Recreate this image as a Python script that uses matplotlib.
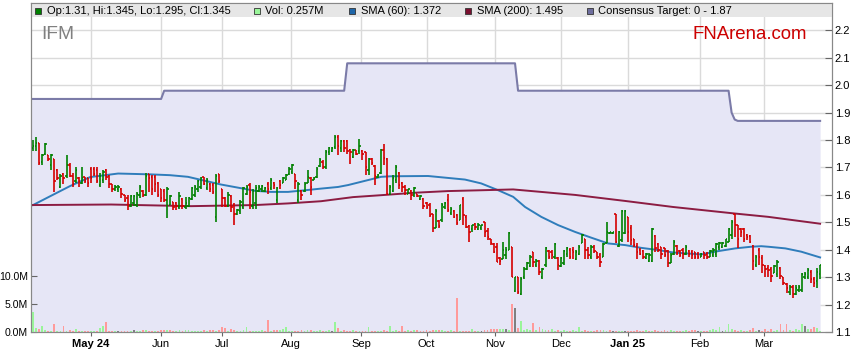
import numpy as np
import matplotlib
matplotlib.use('Agg')
import matplotlib.pyplot as plt
from matplotlib.patches import Rectangle

plt.rcParams['font.family'] = ['Liberation Sans', 'DejaVu Sans']

# daily OHLC (one entry per trading day)
opens = [
    1.77, 1.78, 1.79, 1.72, 1.75, 1.745, 1.71, 1.73, 1.69, 1.63,
    1.675, 1.67, 1.71, 1.67, 1.65, 1.66, 1.645, 1.665, 1.66, 1.695,
    1.695, 1.69, 1.635, 1.655, 1.69, 1.67, 1.64, 1.62, 1.62, 1.62,
    1.60, 1.59, 1.56, 1.57, 1.565, 1.60, 1.615, 1.60, 1.675, 1.665,
    1.665, 1.645, 1.62, 1.615, 1.58, 1.565, 1.575, 1.57, 1.555, 1.585,
    1.555, 1.56, 1.585, 1.60, 1.62, 1.63, 1.665, 1.625, 1.64, 1.635,
    1.52, 1.675, 1.62, 1.59, 1.56, 1.595, 1.565, 1.53, 1.54, 1.555,
    1.605, 1.635, 1.56, 1.57, 1.615, 1.62, 1.615, 1.64, 1.625, 1.645,
    1.58, 1.65, 1.645, 1.655, 1.675, 1.685, 1.675, 1.58, 1.615, 1.615,
    1.645, 1.66, 1.655, 1.665, 1.705, 1.72, 1.70, 1.755, 1.76, 1.775,
    1.81, 1.77, 1.795, 1.795, 1.765, 1.74, 1.765, 1.76, 1.76, 1.755,
    1.69, 1.73, 1.705, 1.665, 1.68, 1.765, 1.73, 1.605, 1.615, 1.655,
    1.68, 1.645, 1.63, 1.605, 1.615, 1.60, 1.605, 1.585, 1.585, 1.57,
    1.565, 1.53, 1.48, 1.505, 1.51, 1.555, 1.58, 1.535, 1.54, 1.525,
    1.51, 1.585, 1.52, 1.485, 1.475, 1.495, 1.475, 1.48, 1.50, 1.47,
    1.44, 1.42, 1.41, 1.37, 1.368, 1.38, 1.40, 1.41, 1.25, 1.30,
    1.24, 1.30, 1.33, 1.34, 1.39, 1.345, 1.36, 1.30, 1.345, 1.395,
    1.39, 1.375, 1.37, 1.34, 1.35, 1.385, 1.40, 1.40, 1.365, 1.385,
    1.425, 1.44, 1.40, 1.375, 1.41, 1.39, 1.38, 1.375, 1.425, 1.462,
    1.462, 1.53, 1.415, 1.435, 1.46, 1.52, 1.48, 1.44, 1.415, 1.40,
    1.395, 1.37, 1.36, 1.36, 1.45, 1.42, 1.41, 1.405, 1.395, 1.35,
    1.385, 1.415, 1.395, 1.40, 1.385, 1.395, 1.39, 1.39, 1.385, 1.375,
    1.39, 1.385, 1.375, 1.38, 1.385, 1.41, 1.41, 1.415, 1.43, 1.455,
    1.53, 1.49, 1.475, 1.475, 1.455, 1.45, 1.415, 1.345, 1.40, 1.37,
    1.34, 1.335, 1.33, 1.315, 1.31, 1.335, 1.30, 1.275, 1.245, 1.265,
    1.24, 1.255, 1.255, 1.30, 1.30, 1.32, 1.295, 1.285, 1.31]
highs = [
    1.80, 1.81, 1.79, 1.75, 1.79, 1.745, 1.75, 1.73, 1.695, 1.675,
    1.68, 1.745, 1.715, 1.68, 1.70, 1.665, 1.70, 1.665, 1.66, 1.70,
    1.70, 1.70, 1.68, 1.69, 1.695, 1.672, 1.64, 1.636, 1.636, 1.625,
    1.60, 1.60, 1.60, 1.60, 1.61, 1.635, 1.617, 1.68, 1.678, 1.672,
    1.672, 1.648, 1.623, 1.623, 1.63, 1.60, 1.575, 1.575, 1.61, 1.587,
    1.593, 1.593, 1.63, 1.636, 1.654, 1.666, 1.666, 1.66, 1.642, 1.642,
    1.678, 1.678, 1.623, 1.593, 1.611, 1.599, 1.569, 1.55, 1.581, 1.63,
    1.636, 1.642, 1.623, 1.636, 1.636, 1.636, 1.63, 1.648, 1.66, 1.648,
    1.63, 1.654, 1.666, 1.678, 1.70, 1.714, 1.678, 1.648, 1.617, 1.648,
    1.69, 1.666, 1.666, 1.70, 1.733, 1.727, 1.763, 1.775, 1.775, 1.818,
    1.818, 1.80, 1.80, 1.80, 1.769, 1.769, 1.765, 1.805, 1.763, 1.757,
    1.733, 1.733, 1.708, 1.678, 1.769, 1.787, 1.733, 1.636, 1.672, 1.708,
    1.684, 1.648, 1.636, 1.623, 1.617, 1.63, 1.605, 1.60, 1.587, 1.575,
    1.569, 1.532, 1.55, 1.508, 1.569, 1.575, 1.605, 1.556, 1.544, 1.532,
    1.563, 1.593, 1.526, 1.49, 1.49, 1.496, 1.496, 1.49, 1.502, 1.478,
    1.441, 1.423, 1.423, 1.374, 1.429, 1.411, 1.465, 1.411, 1.30, 1.30,
    1.30, 1.338, 1.356, 1.38, 1.393, 1.368, 1.362, 1.332, 1.411, 1.399,
    1.399, 1.423, 1.374, 1.374, 1.399, 1.411, 1.405, 1.411, 1.399, 1.417,
    1.459, 1.441, 1.411, 1.417, 1.417, 1.393, 1.387, 1.423, 1.502, 1.465,
    1.465, 1.532, 1.47, 1.544, 1.544, 1.52, 1.49, 1.441, 1.423, 1.405,
    1.399, 1.387, 1.387, 1.478, 1.453, 1.423, 1.411, 1.405, 1.399, 1.387,
    1.435, 1.417, 1.399, 1.405, 1.417, 1.399, 1.399, 1.393, 1.393, 1.387,
    1.393, 1.393, 1.399, 1.405, 1.423, 1.429, 1.429, 1.441, 1.478, 1.51,
    1.532, 1.49, 1.478, 1.478, 1.459, 1.453, 1.417, 1.38, 1.405, 1.38,
    1.344, 1.344, 1.338, 1.344, 1.362, 1.338, 1.30, 1.277, 1.271, 1.271,
    1.271, 1.271, 1.314, 1.32, 1.332, 1.326, 1.30, 1.332, 1.345]
lows = [
    1.76, 1.76, 1.71, 1.71, 1.745, 1.725, 1.69, 1.61, 1.655, 1.625,
    1.64, 1.66, 1.665, 1.63, 1.645, 1.63, 1.64, 1.645, 1.63, 1.645,
    1.67, 1.645, 1.63, 1.645, 1.655, 1.624, 1.61, 1.615, 1.61, 1.59,
    1.575, 1.545, 1.555, 1.56, 1.555, 1.59, 1.593, 1.595, 1.61, 1.60,
    1.61, 1.593, 1.575, 1.575, 1.515, 1.563, 1.545, 1.545, 1.55, 1.55,
    1.55, 1.556, 1.58, 1.593, 1.61, 1.623, 1.636, 1.617, 1.611, 1.605,
    1.50, 1.642, 1.556, 1.556, 1.556, 1.538, 1.49, 1.526, 1.532, 1.55,
    1.599, 1.55, 1.55, 1.55, 1.61, 1.611, 1.611, 1.605, 1.617, 1.623,
    1.569, 1.623, 1.642, 1.654, 1.672, 1.678, 1.623, 1.569, 1.58, 1.611,
    1.642, 1.599, 1.654, 1.66, 1.70, 1.696, 1.696, 1.745, 1.757, 1.769,
    1.745, 1.757, 1.757, 1.75, 1.714, 1.733, 1.745, 1.751, 1.727, 1.672,
    1.672, 1.708, 1.636, 1.66, 1.678, 1.708, 1.599, 1.599, 1.611, 1.642,
    1.623, 1.611, 1.599, 1.605, 1.581, 1.593, 1.593, 1.581, 1.55, 1.55,
    1.52, 1.466, 1.478, 1.478, 1.502, 1.55, 1.538, 1.526, 1.514, 1.49,
    1.508, 1.49, 1.478, 1.43, 1.466, 1.472, 1.472, 1.472, 1.447, 1.435,
    1.417, 1.387, 1.356, 1.344, 1.368, 1.368, 1.399, 1.30, 1.247, 1.24,
    1.235, 1.295, 1.326, 1.338, 1.338, 1.338, 1.308, 1.295, 1.338, 1.368,
    1.368, 1.368, 1.326, 1.338, 1.344, 1.374, 1.368, 1.368, 1.362, 1.38,
    1.423, 1.368, 1.368, 1.368, 1.387, 1.368, 1.338, 1.374, 1.423, 1.459,
    1.459, 1.423, 1.411, 1.429, 1.459, 1.429, 1.417, 1.411, 1.368, 1.38,
    1.368, 1.368, 1.356, 1.356, 1.393, 1.393, 1.368, 1.374, 1.338, 1.35,
    1.38, 1.38, 1.374, 1.368, 1.38, 1.374, 1.368, 1.368, 1.368, 1.374,
    1.368, 1.368, 1.374, 1.374, 1.374, 1.399, 1.405, 1.411, 1.429, 1.44,
    1.447, 1.405, 1.447, 1.429, 1.435, 1.423, 1.326, 1.338, 1.344, 1.314,
    1.301, 1.301, 1.283, 1.314, 1.301, 1.295, 1.27, 1.241, 1.235, 1.223,
    1.235, 1.247, 1.247, 1.295, 1.295, 1.277, 1.265, 1.26, 1.295]
closes = [
    1.78, 1.79, 1.715, 1.745, 1.785, 1.73, 1.745, 1.65, 1.66, 1.67,
    1.66, 1.71, 1.67, 1.64, 1.69, 1.65, 1.66, 1.65, 1.645, 1.66,
    1.675, 1.65, 1.67, 1.685, 1.665, 1.64, 1.62, 1.63, 1.63, 1.605,
    1.58, 1.56, 1.595, 1.595, 1.605, 1.63, 1.60, 1.67, 1.66, 1.62,
    1.64, 1.60, 1.59, 1.58, 1.62, 1.595, 1.555, 1.56, 1.595, 1.56,
    1.57, 1.59, 1.625, 1.63, 1.65, 1.66, 1.64, 1.655, 1.62, 1.61,
    1.67, 1.65, 1.59, 1.56, 1.60, 1.555, 1.53, 1.545, 1.575, 1.625,
    1.63, 1.61, 1.615, 1.625, 1.63, 1.632, 1.625, 1.62, 1.655, 1.635,
    1.625, 1.635, 1.66, 1.672, 1.695, 1.71, 1.65, 1.64, 1.60, 1.64,
    1.665, 1.63, 1.662, 1.695, 1.728, 1.70, 1.758, 1.77, 1.77, 1.81,
    1.78, 1.795, 1.77, 1.76, 1.755, 1.765, 1.75, 1.78, 1.75, 1.70,
    1.73, 1.715, 1.67, 1.672, 1.763, 1.735, 1.605, 1.63, 1.66, 1.70,
    1.635, 1.63, 1.617, 1.62, 1.60, 1.625, 1.597, 1.595, 1.56, 1.555,
    1.526, 1.478, 1.54, 1.485, 1.565, 1.57, 1.545, 1.55, 1.52, 1.497,
    1.563, 1.526, 1.484, 1.466, 1.49, 1.484, 1.49, 1.49, 1.466, 1.447,
    1.423, 1.393, 1.357, 1.36, 1.40, 1.40, 1.46, 1.30, 1.30, 1.245,
    1.295, 1.33, 1.35, 1.375, 1.355, 1.36, 1.32, 1.33, 1.405, 1.375,
    1.38, 1.42, 1.345, 1.37, 1.395, 1.405, 1.375, 1.39, 1.393, 1.41,
    1.455, 1.40, 1.38, 1.41, 1.395, 1.375, 1.355, 1.42, 1.465, 1.463,
    1.463, 1.43, 1.465, 1.54, 1.54, 1.465, 1.435, 1.418, 1.39, 1.385,
    1.375, 1.383, 1.38, 1.475, 1.405, 1.40, 1.385, 1.38, 1.35, 1.38,
    1.43, 1.387, 1.38, 1.385, 1.41, 1.385, 1.38, 1.375, 1.375, 1.385,
    1.38, 1.375, 1.395, 1.40, 1.42, 1.425, 1.425, 1.44, 1.475, 1.50,
    1.49, 1.44, 1.465, 1.44, 1.445, 1.43, 1.36, 1.375, 1.375, 1.345,
    1.33, 1.325, 1.305, 1.34, 1.355, 1.305, 1.277, 1.26, 1.265, 1.24,
    1.26, 1.265, 1.31, 1.31, 1.325, 1.295, 1.28, 1.32, 1.345]

# volume in millions of shares
volumes_m = [
    3.6, 0.7, 0.6, 1.1, 0.35, 0.1, 0.2, 1.4, 0.2, 0.2,
    1.1, 0.1, 0.4, 0.25, 0.45, 0.25, 0.1, 0.15, 0.2, 0.25,
    0.25, 0.1, 0.7, 1.1, 1.8, 0.25, 0.2, 0.2, 0.1, 0.2,
    0.1, 0.2, 0.1, 0.3, 0.1, 0.2, 0.3, 0.3, 0.2, 0.2,
    0.25, 0.1, 0.3, 0.4, 0.4, 0.4, 0.1, 0.1, 0.3, 0.1,
    0.3, 0.35, 0.1, 0.1, 0.2, 0.2, 0.3, 0.2, 0.35, 0.3,
    0.1, 0.35, 0.9, 0.7, 0.2, 0.6, 0.3, 0.2, 0.2, 0.3,
    0.9, 0.2, 0.25, 0.2, 0.25, 0.3, 0.2, 2.2, 0.1, 0.3,
    0.35, 0.3, 0.5, 0.9, 0.2, 0.15, 0.1, 0.2, 0.3, 0.1,
    0.3, 0.3, 0.1, 0.1, 0.4, 0.1, 0.2, 0.3, 0.2, 1.7,
    0.7, 0.2, 0.3, 0.2, 0.1, 0.3, 0.2, 0.2, 0.25, 0.2,
    0.8, 0.2, 0.1, 0.25, 0.2, 0.4, 0.2, 1.1, 0.2, 0.3,
    0.2, 1.1, 0.2, 0.3, 0.2, 0.3, 0.4, 0.2, 0.1, 0.3,
    0.2, 0.4, 0.35, 0.35, 0.3, 0.2, 0.2, 0.3, 0.1, 6.1,
    0.2, 0.2, 0.2, 0.2, 0.5, 0.2, 0.1, 0.1, 0.3, 0.3,
    0.5, 0.5, 0.5, 0.6, 0.6, 0.6, 0.3, 4.9, 4.2, 0.7,
    2.0, 0.3, 0.6, 0.3, 1.6, 0.4, 0.8, 0.6, 0.3, 0.3,
    0.6, 0.2, 0.3, 0.2, 0.3, 0.2, 0.2, 0.3, 0.2, 0.8,
    0.2, 0.3, 0.1, 0.2, 0.2, 0.3, 0.3, 0.35, 0.2, 0.4,
    0.2, 0.1, 0.2, 0.1, 0.2, 0.1, 0.2, 0.25, 0.3, 0.2,
    0.2, 0.35, 0.2, 0.25, 0.3, 0.2, 0.2, 0.3, 0.2, 0.3,
    0.1, 0.1, 0.2, 0.1, 0.3, 0.1, 0.3, 0.3, 0.2, 0.1,
    0.2, 0.2, 0.3, 0.5, 0.3, 0.9, 0.2, 0.3, 1.5, 0.6,
    0.3, 0.2, 0.3, 0.2, 0.25, 0.3, 0.7, 0.2, 0.3, 0.2,
    0.5, 0.2, 0.6, 0.2, 0.3, 1.5, 0.3, 1.5, 0.35, 0.2,
    0.5, 0.3, 1.5, 1.0, 0.6, 0.45, 0.8, 0.7, 0.257]

# moving averages, read at intervals (bar index, value)
sma60_idx = [0, 5.6, 12.1, 18.7, 27.9, 38.4, 44.9, 50.8, 61.6, 72.8, 78, 83.6,
             89.2, 94.4, 100, 103.3, 114.1, 117.4, 129.5, 136, 141.6, 146.9,
             152.5, 157.4, 161.3, 166.6, 172.1, 177.7, 183, 188.5, 194.1,
             199.3, 204.9, 209.8, 213.8, 219, 224.6, 230.2, 235.4, 238.7,
             241, 246.6, 251.8, 258]
sma60_val = [1.563, 1.595, 1.632, 1.665, 1.678, 1.675, 1.672, 1.666, 1.638,
             1.615, 1.611, 1.611, 1.617, 1.623, 1.629, 1.636, 1.666, 1.668,
             1.669, 1.662, 1.656, 1.642, 1.617, 1.593, 1.556, 1.52, 1.49,
             1.465, 1.444, 1.423, 1.417, 1.407, 1.399, 1.39, 1.387, 1.383,
             1.395, 1.405, 1.411, 1.413, 1.411, 1.405, 1.393, 1.372]
sma200_idx = [0, 25.6, 51.8, 72.8, 83.6, 94.4, 104.9, 114.1, 125.2, 136,
              146.9, 157.4, 177.7, 194.1, 209.8, 230.2, 241, 258]
sma200_val = [1.563, 1.565, 1.559, 1.563, 1.569, 1.577, 1.592, 1.599, 1.608,
              1.614, 1.617, 1.62, 1.60, 1.578, 1.556, 1.532, 1.52, 1.495]

# consensus target: level and number of days it held
target_levels = [1.95, 1.98, 2.08, 1.98, 1.90, 1.875, 1.87]
target_runs = [43, 60, 56, 70, 1, 1, 28]

month_idx = [19, 42, 62, 84.5, 107.5, 129, 151.5, 173, 195, 218.5, 239.5]
month_lbl = ['May 24', 'Jun', 'Jul', 'Aug', 'Sep', 'Oct', 'Nov', 'Dec',
             'Jan 25', 'Feb', 'Mar']

n = len(closes)
x = np.arange(n)
o = np.array(opens)
h = np.array(highs)
l = np.array(lows)
c = np.array(closes)
v = np.array(volumes_m) * 1e6

W, H = 859, 363
fig = plt.figure(figsize=(W / 100, H / 100), dpi=100)
ax = fig.add_axes([31 / W, 31 / H, 801 / W, 329 / H])
ax.set_xlim(-0.65, n - 1 + 3.9)
ax.set_ylim(1.1, 2.30)

grid_col = '#dadada'
for yv in np.arange(1.2, 2.25, 0.1):
    ax.axhline(yv, color=grid_col, lw=1, zorder=0)
for m in month_idx:
    ax.axvline(m, color=grid_col, lw=1, zorder=0)

# consensus target area
target = np.repeat(target_levels, target_runs)
xf = np.r_[-0.65, x]
tf = np.r_[target[0], target]
ax.fill_between(xf, 1.1, tf, color='#e6e6f6', lw=0, zorder=1)
ax.plot(xf, tf, color='#7b7ba8', lw=1.5, zorder=3)

ax.plot(sma60_idx, sma60_val, color='#2f7dbb', lw=1.4, zorder=3)
ax.plot(sma200_idx, sma200_val, color='#8c1c42', lw=1.4, zorder=3)

# OHLC bars
cols = np.where(c >= o, '#008000', '#d40000')
ax.vlines(x, l, h, colors=cols, lw=1.2, zorder=5)
ax.hlines(o, x - 0.45, x, colors=cols, lw=1.2, zorder=5)
ax.hlines(c, x, x + 0.45, colors=cols, lw=1.2, zorder=5)

# legend band
band = 14 / 329
ax.add_patch(Rectangle((0, 1 - band), 1, band, transform=ax.transAxes,
                       facecolor='#e6e6e6', edgecolor='none', zorder=6))

ax.text(10 / 801, 1 - 36 / 329, 'IFM', transform=ax.transAxes, fontsize=13.8,
        color='#808080', va='baseline', zorder=7)
ax.text(662 / 801, 1 - 36 / 329, 'FNArena.com', transform=ax.transAxes,
        fontsize=13.4, color='#cc0000', va='baseline', zorder=7)

# volume axis (left)
axv = ax.twinx()
ax.yaxis.tick_right()
axv.yaxis.tick_left()
axv.set_ylim(0, 58.4e6)
chg = np.r_[1, np.diff(c)]
vcols = np.where(chg > 0, '#99f599', np.where(chg < 0, '#ff9a9a', '#808080'))
axv.bar(x, v, width=0.6, color=vcols, lw=0, zorder=2)
axv.set_yticks([0, 5e6, 10e6])
axv.set_yticklabels(['0.0M', '5.0M', '10.0M'])

ax.set_yticks(np.arange(1.1, 2.25, 0.1))
ax.set_yticklabels(['%.1f' % t for t in np.arange(1.1, 2.25, 0.1)])
ax.set_xticks(month_idx)
ax.set_xticklabels(month_lbl)
for t in ax.get_xticklabels():
    if t.get_text() in ('May 24', 'Jan 25'):
        t.set_fontweight('bold')

for a in (ax, axv):
    for s in a.spines.values():
        s.set_color('#888888')
ax.tick_params(axis='y', direction='in', length=5, color='#666666',
               labelsize=8, pad=2)
axv.tick_params(axis='y', direction='in', length=4, color='#666666',
                labelsize=7.6, pad=2)
ax.tick_params(axis='x', direction='out', length=3, color='#666666',
               labelsize=8, pad=2)

# legend entries
legend = [(35, 47, '#008000', 'Op:1.31, Hi:1.345, Lo:1.295, Cl:1.345'),
          (254, 265, '#99f599', 'Vol: 0.257M'),
          (349, 361, '#1f66a8', 'SMA (60): 1.372'),
          (465, 477, '#7a1030', 'SMA (200): 1.495'),
          (587, 598, '#6e6e9e', 'Consensus Target: 0 - 1.87')]
for bx, tx, col, txt in legend:
    fig.add_artist(Rectangle((bx / W, 1 - 14 / H), 6 / W, 6 / H,
                             transform=fig.transFigure, facecolor=col,
                             edgecolor='#333333', lw=0.6))
    fig.text(tx / W, 1 - 10.8 / H, txt, fontsize=8, va='center')

fig.savefig('out.png', dpi=100)
